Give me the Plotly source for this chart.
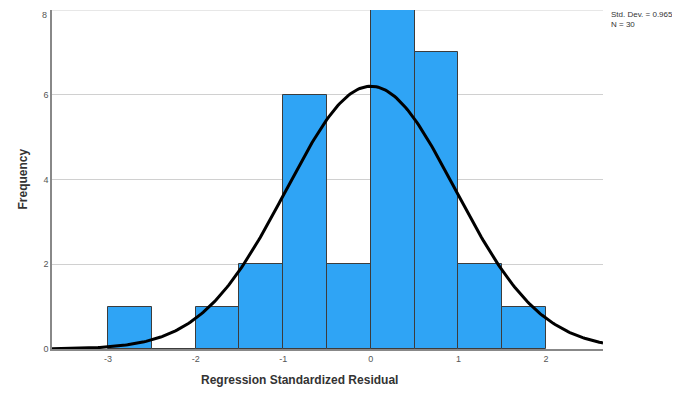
import numpy as np
import plotly.graph_objects as go

bin_left = [-3.0, -2.5, -2.0, -1.5, -1.0, -0.5, 0.0, 0.5, 1.0, 1.5]
counts = [1, 0, 1, 2, 6, 2, 8, 7, 2, 1]
bin_width = 0.5
mean_val = 0.0
sd_val = 0.965
n_val = 30
x_ticks = [-3, -2, -1, 0, 1, 2]
y_ticks = [0, 2, 4, 6]
y_top_tick = 8

centers = [b + bin_width / 2 for b in bin_left]
xs = np.linspace(-3.64, 2.65, 300)
ys = n_val * bin_width * np.exp(-0.5 * ((xs - mean_val) / sd_val) ** 2) / (sd_val * np.sqrt(2 * np.pi))

fig = go.Figure()
fig.add_trace(go.Bar(x=centers, y=counts, width=bin_width,
                     marker=dict(color="rgb(47,164,245)", line=dict(color="rgb(60,60,60)", width=1)),
                     showlegend=False))
fig.add_trace(go.Scatter(x=xs, y=ys, mode="lines", line=dict(color="black", width=3), showlegend=False))

fig.update_layout(
    width=672, height=393,
    margin=dict(l=44, r=77, t=2, b=52),
    paper_bgcolor="white", plot_bgcolor="white",
    font=dict(family="Liberation Sans, Arial", color="#333"),
    bargap=0,
    xaxis=dict(range=[-3.64, 2.65], tickvals=x_ticks, ticktext=[str(v) for v in x_ticks],
               showgrid=False, zeroline=False, showline=True, linecolor="#888", linewidth=1.5,
               tickfont=dict(size=9, color="#555"), ticks="", ticklen=0),
    yaxis=dict(range=[0, 8], tickvals=y_ticks, showgrid=True, gridcolor="#d0d0d0", gridwidth=1,
               zeroline=False, showline=True, linecolor="#888", linewidth=1.5,
               tickfont=dict(size=9, color="#555"), ticks=""),
    shapes=[dict(type="line", xref="paper", yref="y", x0=0, x1=1, y0=y_top_tick, y1=y_top_tick,
                 line=dict(color="#d0d0d0", width=1), layer="below")],
    annotations=[
        dict(text=str(y_top_tick), xref="paper", yref="y", x=0, y=y_top_tick, xanchor="right",
             yanchor="top", xshift=-3, yshift=2, showarrow=False, font=dict(size=9, color="#555")),
        dict(text="<b>Regression Standardized Residual</b>", xref="paper", yref="paper",
             x=0.45, y=-0.0915, xanchor="center", yanchor="middle", showarrow=False,
             font=dict(size=12, color="#333")),
        dict(text="<b>Frequency</b>", xref="paper", yref="paper", x=-0.0544, y=0.5,
             xanchor="center", yanchor="middle", textangle=-90, showarrow=False,
             font=dict(size=12, color="#333")),
        dict(text="Std. Dev. = 0.965<br>N = 30", xref="paper", yref="paper",
             x=1.01, y=1.0, xanchor="left", yanchor="top", yshift=2, align="left", showarrow=False,
             font=dict(size=8, color="#333")),
    ],
)
fig.write_html("out.html")
